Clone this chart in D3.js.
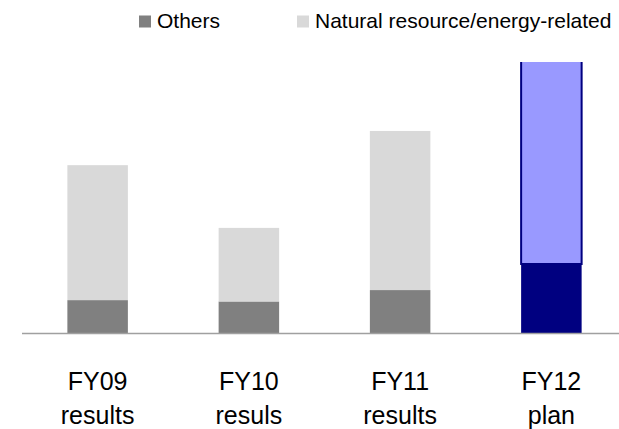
<!DOCTYPE html>
<html><head><meta charset="utf-8">
<script src="https://cdn.jsdelivr.net/npm/d3@7/dist/d3.min.js"></script>
<style>body{margin:0;background:#fff;}svg{display:block;font-family:"Liberation Sans",Arial,sans-serif;}</style>
</head><body>
<svg id="c" width="619" height="429"></svg>
<script>
const categories = ["FY09|results", "FY10|resuls", "FY11|results", "FY12|plan"];
const others = [12.3, 11.8, 16.0, 25.6];
const natural = [49.7, 27.1, 58.6, 85.0];
const seriesNames = ["Others", "Natural resource/energy-related"];
const yMax = 100;

const svg = d3.select("#c");
const W = 619, H = 429;
const plotTop = 62, plotBottom = 333.5, plotLeft = 22, plotRight = 627;

const x = d3.scaleBand().domain(categories).range([plotLeft, plotRight]).paddingInner(0.6).paddingOuter(0.3);
const y = d3.scaleLinear().domain([0, yMax]).range([plotBottom, plotTop]);

const colors = {
  normal: ["#808080", "#d9d9d9"],
  plan: ["#000080", "#9999ff"]
};

svg.append("defs").append("clipPath").attr("id", "clip")
  .append("rect").attr("x", 0).attr("y", plotTop).attr("width", W).attr("height", plotBottom - plotTop);

const data = categories.map((c, i) => ({c, i, o: others[i], n: natural[i]}));
const g = svg.append("g").attr("clip-path", "url(#clip)");

data.forEach(d => {
  const isPlan = d.i === categories.length - 1;
  const col = isPlan ? colors.plan : colors.normal;
  g.append("rect").attr("x", x(d.c)).attr("width", x.bandwidth())
    .attr("y", y(d.o)).attr("height", y(0) - y(d.o)).attr("fill", col[0]);
  const r = g.append("rect").attr("x", x(d.c)).attr("width", x.bandwidth())
    .attr("y", y(d.o + d.n)).attr("height", y(d.o) - y(d.o + d.n)).attr("fill", col[1]);
  if (isPlan) r.attr("stroke", "#000080").attr("stroke-width", 2);
});

// axis line
svg.append("line").attr("x1", plotLeft).attr("x2", W).attr("y1", plotBottom).attr("y2", plotBottom)
  .attr("stroke", "#a0a0a0").attr("stroke-width", 1.5);

// category labels
const lab = svg.append("g").attr("font-size", 25).attr("fill", "#000").attr("text-anchor", "middle");
categories.forEach(c => {
  const [a, b] = c.split("|");
  const cx = x(c) + x.bandwidth() / 2;
  lab.append("text").attr("x", cx).attr("y", 390).text(a);
  lab.append("text").attr("x", cx).attr("y", 424).text(b);
});

// legend
const legend = [
  {name: seriesNames[0], color: colors.normal[0], mx: 139, tx: 157},
  {name: seriesNames[1], color: colors.normal[1], mx: 297, tx: 315}
];
const lg = svg.append("g");
legend.forEach(l => {
  lg.append("rect").attr("x", l.mx).attr("y", 15.5).attr("width", 12).attr("height", 12).attr("fill", l.color);
  lg.append("text").attr("x", l.tx).attr("y", 28).attr("font-size", 21).attr("fill", "#000").text(l.name);
});
</script>
</body></html>
